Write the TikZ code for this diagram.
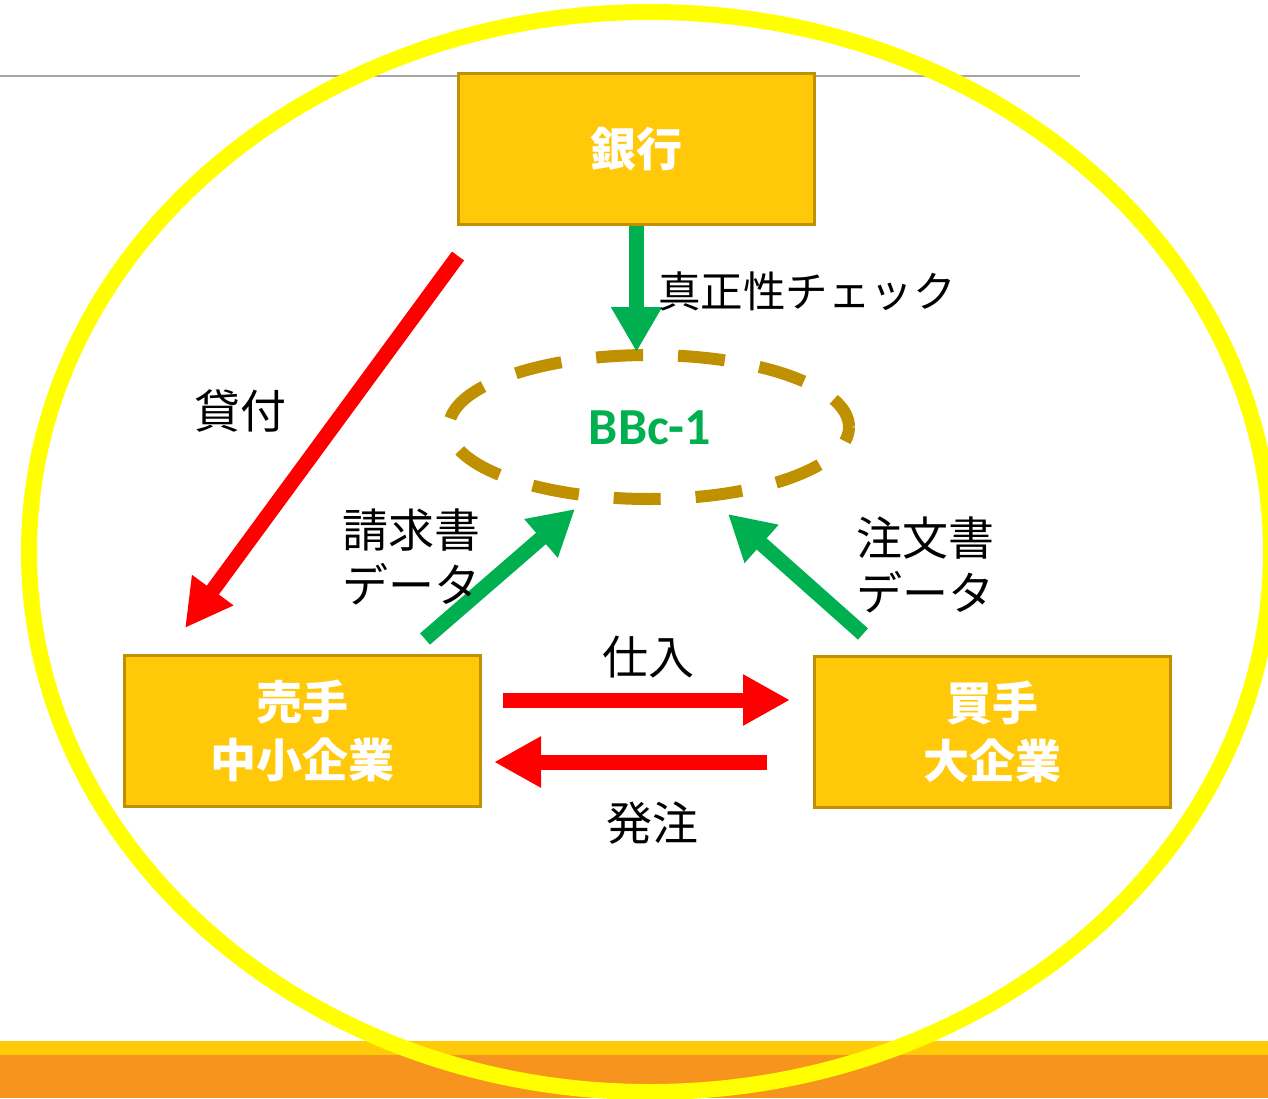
\documentclass[tikz,border=0pt]{standalone}
\usepackage{fontspec}
\newfontfamily\jp{Noto Sans CJK JP}
\newfontfamily\carl{Carlito}
\usetikzlibrary{arrows.meta,shapes.geometric}
\definecolor{boxfill}{HTML}{FFC90A}
\definecolor{boxedge}{HTML}{BF9000}
\definecolor{bbgreen}{HTML}{00B050}
\definecolor{arrred}{HTML}{FF0000}
\definecolor{ringyellow}{HTML}{FFFF00}
\definecolor{bandyellow}{HTML}{FFCA08}
\definecolor{bandorange}{HTML}{F7941D}
\definecolor{rulegray}{HTML}{A6A6A6}
\begin{document}
\begin{tikzpicture}[x=1pt,y=-1pt,
  party/.style={draw=boxedge, fill=boxfill, line width=3pt, minimum width=356pt, minimum height=151pt, text=white, font=\jp\bfseries\fontsize{46}{58}\selectfont, align=center, inner sep=0pt},
  lbl/.style={font=\jp\fontsize{46}{55}\selectfont, inner sep=0pt, align=left},
  garrow/.style={draw=bbgreen, line width=15pt, -{Triangle[width=48pt,length=45pt]}},
  rarrow/.style={draw=arrred, line width=15pt, -{Triangle[width=48pt,length=47pt]}},
  ledger/.style={draw=boxedge, line width=12pt, dash pattern=on 47pt off 35pt, dash phase=32pt},
]
\useasboundingbox (0,0) rectangle (1268,1098);
\clip (0,0) rectangle (1268,1098);
% background elements
\draw[rulegray, line width=2pt] (0,76) -- (1080,76);
\fill[bandyellow] (0,1041) rectangle (1268,1055);
\fill[bandorange] (0,1055) rectangle (1268,1098);

% parties
\node[party] (bank) at (636.5,149) {銀行};
\node[party] (seller) at (302.5,731) {売手\\中小企業};
\node[party] (buyer) at (992.5,732) {買手\\大企業};

% ledger
\node[inner sep=0pt, text=bbgreen, font=\carl\bfseries\fontsize{52}{52}\selectfont] (bbc) at (650,428) {BBc-1};
\draw[ledger] (649,427) ellipse [x radius=200, y radius=72];

% arrow end points
\coordinate (bankout) at (636.5,226);
\coordinate (bbctop) at (636.5,352);
\coordinate (loanstart) at (458,256);
\coordinate (loanend) at (185,628);
\coordinate (sellout) at (425,639);
\coordinate (bbcleft) at (575,509);
\coordinate (buyout) at (863,634);
\coordinate (bbcright) at (728,514);
\coordinate (buystart) at (503,700);
\coordinate (buyend) at (790,700);
\coordinate (ordstart) at (767,762);
\coordinate (ordend) at (494,762);

\draw[garrow] (bankout) -- (bbctop);
\draw[garrow] (sellout) -- (bbcleft);
\draw[garrow] (buyout) -- (bbcright);
\draw[rarrow] (loanstart) -- (loanend);
\draw[rarrow] (buystart) -- (buyend);
\draw[rarrow] (ordstart) -- (ordend);

% labels
\node[lbl, font=\jp\fontsize{42.5}{50}\selectfont, anchor=base west] (lcheck) at (658,307) {真正性チェック};
\node[lbl] (lloan) at (240,411) {貸付};
\node[lbl, anchor=west] (linv) at (342,557) {請求書\\データ};
\node[lbl, anchor=west] (lord) at (856,565) {注文書\\データ};
\node[lbl] (lbuy) at (648,657) {仕入};
\node[lbl] (lorder) at (652,823) {発注};

% outer ring
\draw[ringyellow, line width=16pt] (650,552) ellipse [x radius=621, y radius=540];
\end{tikzpicture}
\end{document}
